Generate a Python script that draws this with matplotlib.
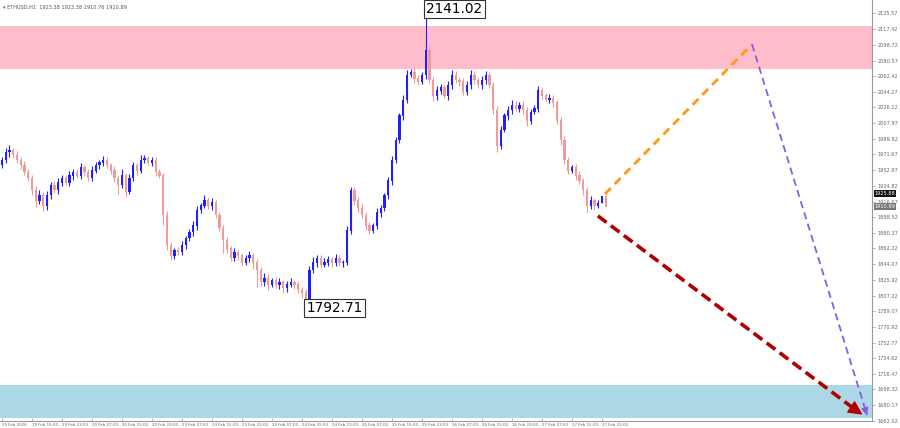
import matplotlib
matplotlib.use("Agg")
import matplotlib.pyplot as plt
import numpy as np

# ---- data ----
closes = [1965, 1974, 1976, 1971, 1965, 1959, 1951, 1944, 1930, 1918,
          1924, 1912, 1924, 1936, 1930, 1939, 1944, 1939, 1947, 1951,
          1947, 1956, 1951, 1944, 1953, 1959, 1962, 1965, 1959, 1953,
          1944, 1936, 1947, 1928, 1944, 1959, 1953, 1965, 1967, 1962,
          1965, 1951, 1947, 1901, 1866, 1854, 1860, 1858, 1866, 1874,
          1881, 1889, 1907, 1912, 1918, 1912, 1916, 1901, 1886, 1872,
          1862, 1851, 1858, 1854, 1846, 1851, 1854, 1846, 1837, 1823,
          1828, 1820, 1825, 1820, 1823, 1816, 1820, 1823, 1820, 1814,
          1811, 1804, 1837, 1846, 1851, 1843, 1846, 1849, 1845, 1851,
          1846, 1846, 1883, 1930, 1918, 1909, 1901, 1889, 1883, 1889,
          1904, 1909, 1924, 1941, 1965, 1988, 2017, 2035, 2064, 2067,
          2060, 2056, 2064, 2093, 2058, 2040, 2046, 2049, 2040, 2052,
          2064, 2058, 2056, 2044, 2052, 2064, 2058, 2052, 2058, 2064,
          2052, 2023, 1982, 2000, 2017, 2023, 2029, 2025, 2029, 2023,
          2011, 2021, 2025, 2046, 2040, 2035, 2037, 2032, 2011, 1988,
          1965, 1953, 1956, 1947, 1941, 1930, 1912, 1918, 1912, 1915,
          1923.38, 1910.89]
first_open = 1960
upper_wick = [4, 5, 6, 3, 4, 3, 5, 3, 4, 5,
              6, 4, 5, 3, 4, 5, 3, 4, 5, 3,
              4, 6, 3, 4, 5, 4, 3, 5, 4, 3,
              5, 4, 8, 3, 5, 4, 3, 6, 4, 3,
              4, 3, 4, 3, 5, 4, 3, 4, 5, 3,
              4, 5, 4, 3, 6, 4, 5, 3, 4, 3,
              4, 3, 5, 4, 3, 4, 5, 3, 4, 3,
              5, 4, 3, 4, 5, 3, 4, 5, 3, 4,
              3, 4, 5, 6, 4, 3, 5, 4, 3, 5,
              4, 3, 5, 4, 3, 4, 5, 3, 4, 3,
              5, 4, 3, 4, 5, 4, 3, 5, 6, 4,
              5, 4, 3, 48, 4, 3, 5, 4, 3, 5,
              6, 4, 3, 4, 5, 6, 4, 3, 5, 4,
              3, 4, 5, 4, 3, 5, 6, 4, 3, 5,
              4, 3, 4, 5, 4, 3, 5, 4, 3, 4,
              5, 4, 3, 4, 5, 3, 4, 5, 3, 4,
              0, 3]
lower_wick = [4, 3, 5, 4, 3, 5, 4, 3, 6, 8,
              4, 6, 5, 4, 3, 5, 4, 3, 4, 5,
              3, 4, 5, 3, 4, 3, 5, 4, 3, 4,
              5, 10, 4, 6, 3, 4, 5, 3, 4, 3,
              4, 5, 3, 12, 6, 5, 4, 3, 4, 5,
              3, 4, 5, 4, 3, 4, 5, 3, 4, 15,
              5, 4, 3, 5, 4, 3, 5, 8, 20, 5,
              4, 6, 3, 4, 5, 6, 4, 3, 5, 4,
              6, 11.3, 4, 3, 5, 4, 3, 4, 5, 3,
              4, 5, 3, 4, 5, 4, 3, 6, 4, 3,
              4, 5, 3, 4, 5, 4, 3, 5, 4, 3,
              5, 4, 3, 5, 4, 6, 5, 4, 3, 5,
              4, 3, 5, 4, 3, 4, 5, 3, 4, 5,
              3, 4, 8, 4, 3, 5, 4, 3, 4, 5,
              6, 4, 3, 4, 5, 3, 4, 5, 4, 6,
              5, 4, 3, 5, 4, 6, 8, 4, 5, 3,
              0, 0.13]

x_labels = ["19 Feb 2026", "19 Feb 15:00", "19 Feb 23:00", "20 Feb 07:00",
            "20 Feb 15:00", "20 Feb 23:00", "23 Feb 07:00", "23 Feb 15:00",
            "23 Feb 23:00", "24 Feb 07:00", "24 Feb 15:00", "24 Feb 23:00",
            "25 Feb 07:00", "25 Feb 15:00", "25 Feb 23:00", "26 Feb 07:00",
            "26 Feb 15:00", "26 Feb 23:00", "27 Feb 07:00", "27 Feb 15:00",
            "27 Feb 23:00"]
y_ticks = [2135.57, 2117.42, 2098.72, 2080.57, 2062.42, 2044.27, 2026.12,
           2007.97, 1989.82, 1971.67, 1952.97, 1934.82, 1916.67, 1898.52,
           1880.37, 1862.22, 1844.07, 1825.92, 1807.22, 1789.07, 1770.92,
           1752.77, 1734.62, 1716.47, 1698.32, 1680.17, 1662.02]

resist_zone = (2070.8, 2120.8)
support_zone = (1664.5, 1703.3)
high_label = 2141.02
low_label = 1792.71
bid_price = 1925.88
last_price = 1910.89
# projection path: (bar index, price)
orange_path = [(160.8, 1925.5), (200.0, 2099.5)]
purple_path = [(200.0, 2099.5), (230.9, 1665.0)]
red_path = [(158.9, 1900.0), (230.1, 1667.0)]

# ---- drawing ----
fig = plt.figure(figsize=(9, 4.28), dpi=100)
ax = fig.add_axes([0.0, 7 / 428, 872 / 900, 421 / 428])
ax.set_xlim(-0.533, 232.0)
ax.set_ylim(1661.5, 2151.0)

ax.axhspan(*resist_zone, color="#ffbccb", lw=0, zorder=0)
ax.axhspan(*support_zone, color="#acd8e5", lw=0, zorder=0)

closes_a = np.array(closes, dtype=float)
opens_a = np.concatenate([[first_open], closes_a[:-1]])
opens_a[-1] = 1923.38
highs = np.maximum(opens_a, closes_a) + np.array(upper_wick)
lows = np.minimum(opens_a, closes_a) - np.array(lower_wick)
idx = np.arange(len(closes_a))
bull = closes_a >= opens_a
col_bull = "#1f1fff"
col_bear = "#f19a9a"
colors = np.where(bull, col_bull, col_bear)

ax.vlines(idx, lows, highs, colors=colors, lw=0.8, zorder=2)
ax.bar(idx, np.abs(closes_a - opens_a) + 0.6, bottom=np.minimum(opens_a, closes_a) - 0.3,
       width=0.55, color=colors, lw=0, zorder=3)

# projections
(x0, y0), (x1, y1) = orange_path
ax.plot([x0, x1], [y0, y1], color="#ff9a10", lw=2, ls=(0, (3, 2)), zorder=4)
(x0, y0), (x1, y1) = purple_path
ax.plot([x0, x1 - 0.4], [y0, y1 + 6], color="#8a5ce6", lw=1.3, ls=(0, (4, 2.5)), zorder=4)
ax.annotate("", xy=(x1, y1), xytext=(x1 - 0.5, y1 + 7),
            arrowprops=dict(arrowstyle="-|>", color="#8a5ce6", lw=1.2, mutation_scale=10), zorder=4)
(x0, y0), (x1, y1) = red_path
ax.plot([x0, x1 - 2.5], [y0, y1 + 7.5], color="#b00000", lw=2.6, ls=(0, (3, 1.5)), zorder=5)
ax.annotate("", xy=(x1, y1), xytext=(x1 - 3.2, y1 + 9.5),
            arrowprops=dict(arrowstyle="-|>", color="#b00000", lw=1, mutation_scale=22), zorder=5)

# price labels
ax.plot([112.6, 113.0], [high_label, high_label], color="#555555", lw=0.8)
ax.text(113.2, high_label, f"{high_label:.2f}", fontsize=9.8, va="center", ha="left",
        bbox=dict(boxstyle="square,pad=0.15", fc="white", ec="#333333", lw=0.8), zorder=6)
ax.plot([80.6, 81.0], [low_label, low_label], color="#555555", lw=0.8)
ax.text(81.2, low_label, f"{low_label:.2f}", fontsize=9.8, va="center", ha="left",
        bbox=dict(boxstyle="square,pad=0.15", fc="white", ec="#333333", lw=0.8), zorder=6)

# axes styling
for s in ["top", "left"]:
    ax.spines[s].set_visible(False)
ax.spines["right"].set_color("#9a9a9a")
ax.spines["bottom"].set_color("#9a9a9a")
ax.spines["right"].set_linewidth(0.8)
ax.spines["bottom"].set_linewidth(0.8)
ax.yaxis.tick_right()
ax.set_yticks(y_ticks)
ax.set_yticklabels([f"{v:.2f}" for v in y_ticks])
ax.tick_params(axis="y", labelsize=3.6, colors="#9a9a9a", labelcolor="#666666",
               length=2, pad=2, width=0.5)
ax.set_xticks(np.arange(len(x_labels)) * 8)
ax.set_xticklabels(x_labels, ha="left")
ax.tick_params(axis="x", labelsize=2.9, colors="#9a9a9a", labelcolor="#666666",
               length=2, pad=1.2, width=0.5, direction="in")
for lab in ax.get_xticklabels():
    lab.set_x(lab.get_position()[0])

trans = ax.get_yaxis_transform()
ax.text(1.003, bid_price, f"{bid_price:.2f}", transform=trans, fontsize=3.6, color="white",
        va="center", ha="left", bbox=dict(boxstyle="square,pad=0.2", fc="#111111", ec="none"))
ax.text(1.003, last_price, f"{last_price:.2f}", transform=trans, fontsize=3.6, color="white",
        va="center", ha="left", bbox=dict(boxstyle="square,pad=0.2", fc="#777777", ec="none"))

fig.text(3 / 900, 1 - 7 / 428, "▾ ETHUSD,H1  1923.38 1923.38 1910.76 1910.89",
         fontsize=3.6, color="#555555", va="center", ha="left")

fig.savefig("out.png", dpi=100)
